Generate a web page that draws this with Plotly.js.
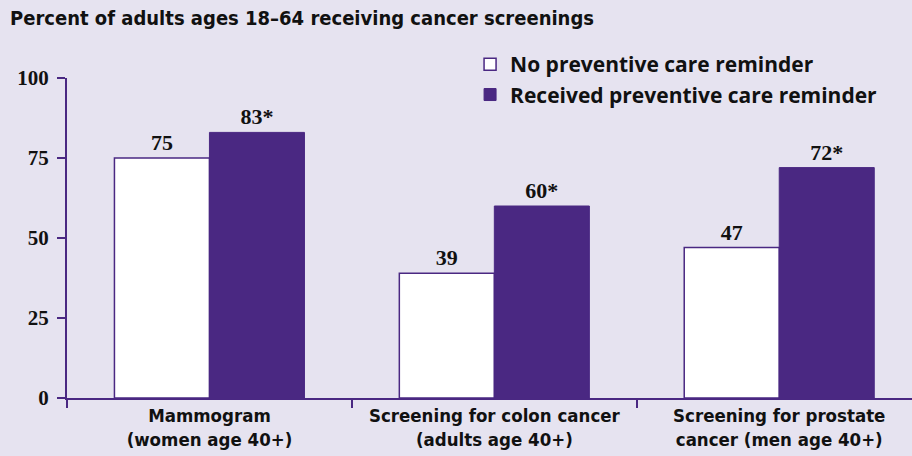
<!DOCTYPE html>
<html><head><meta charset="utf-8">
<script src="https://cdn.plot.ly/plotly-3.0.1.min.js"></script>
<style>body{margin:0;background:#e6e3f0}</style>
</head><body><div id="chart" style="width:912px;height:456px"></div>
<script>
const categories = ["Mammogram<br>(women age 40+)", "Screening for colon cancer<br>(adults age 40+)", "Screening for prostate<br>cancer (men age 40+)"];
const noReminder = [75, 39, 47];
const noReminderLabels = ["75", "39", "47"];
const received = [83, 60, 72];
const receivedLabels = ["83*", "60*", "72*"];
const yTicks = [0, 25, 50, 75, 100];

const purple = "#4a2882";
const bg = "#e6e3f0";
const serif = "Liberation Serif";
const narrow = "DejaVu Sans Condensed, Liberation Sans Narrow, Lato";

const traces = [
  {type: "bar", name: "No preventive care reminder", x: categories, y: noReminder,
   text: noReminderLabels, textposition: "outside", cliponaxis: false,
   textfont: {family: serif, size: 22, color: "#111", weight: "bold"},
   marker: {color: "#ffffff", line: {color: purple, width: 1.5}}},
  {type: "bar", name: "Received preventive care reminder", x: categories, y: received,
   text: receivedLabels, textposition: "outside", cliponaxis: false,
   textfont: {family: serif, size: 22, color: "#111", weight: "bold"},
   marker: {color: purple, line: {color: purple, width: 1}}}
];

const layout = {
  width: 912, height: 456,
  paper_bgcolor: bg, plot_bgcolor: bg,
  margin: {l: 67, r: 0, t: 78, b: 58},
  barmode: "group", bargap: 0.333, bargroupgap: 0,
  title: {text: "Percent of adults ages 18–64 receiving cancer screenings",
    x: 0.011, xanchor: "left", y: 0.96, yanchor: "middle",
    font: {family: narrow, size: 20, color: "#111", weight: "bold"}},
  xaxis: {range: [-0.5, 2.466], showline: true, linecolor: purple, linewidth: 2,
    ticks: "outside", tickson: "boundaries", ticklen: 8, tickcolor: purple, tickwidth: 1.5,
    tickfont: {family: narrow, size: 18.5, color: "#111", weight: "bold"}, showgrid: false, zeroline: false,
    fixedrange: true},
  yaxis: {range: [0, 100], tickvals: yTicks, ticktext: yTicks.map(String),
    showline: true, linecolor: purple, linewidth: 2,
    ticks: "outside", ticklen: 8, tickcolor: purple, tickwidth: 1.5, ticklabelstandoff: 4,
    tickfont: {family: serif, size: 21, color: "#111", weight: "bold"}, showgrid: false, zeroline: false},
  showlegend: true,
  legend: {x: 0.477, xanchor: "left", y: 1.106, yanchor: "top", bgcolor: "rgba(0,0,0,0)",
    font: {family: "Open Sans", size: 21, color: "#111", weight: "bold"},
    itemwidth: 30, tracegroupgap: 0, traceorder: "normal"}
};

Plotly.newPlot("chart", traces, layout, {displayModeBar: false, staticPlot: true});
</script></body></html>
